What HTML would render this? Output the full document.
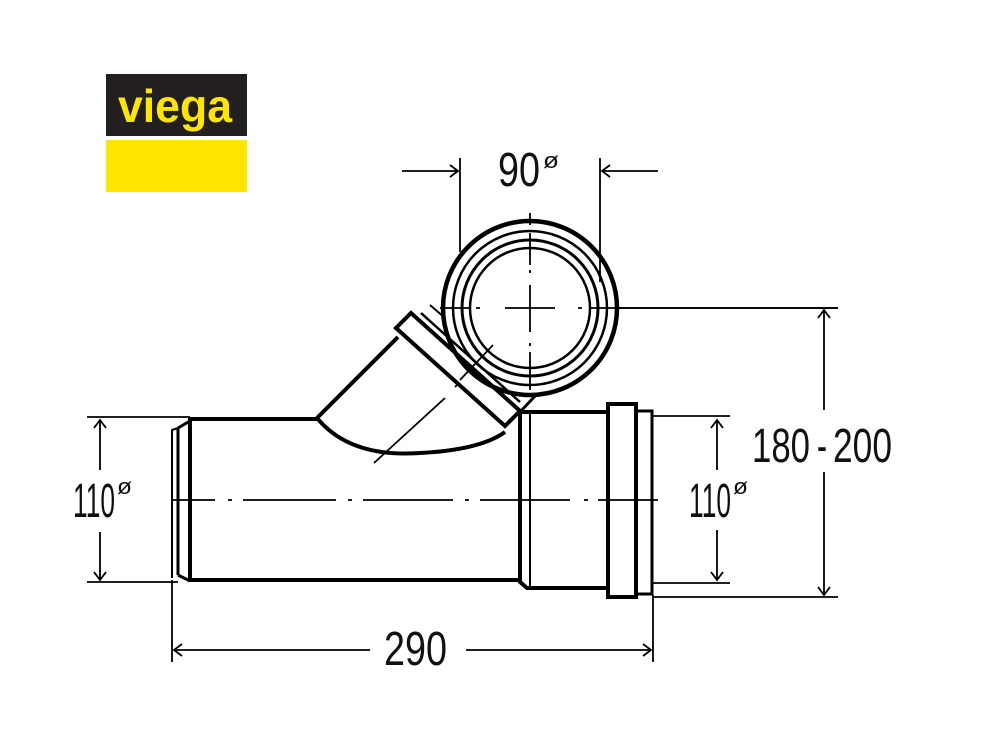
<!DOCTYPE html>
<html><head><meta charset="utf-8"><style>
html,body{margin:0;padding:0;background:#fff;width:992px;height:741px;overflow:hidden}
text{font-family:"Liberation Sans",sans-serif;fill:#111}
</style></head><body>
<svg width="992" height="741" viewBox="0 0 992 741" xmlns="http://www.w3.org/2000/svg">
<!-- logo -->
<rect x="106" y="74" width="141" height="62" fill="#231f20"/>
<rect x="106" y="140" width="141" height="52" fill="#ffe600"/>
<text x="118" y="122" font-size="46" font-weight="bold" textLength="114" lengthAdjust="spacingAndGlyphs" style="fill:#ffe600">viega</text>

<g fill="none" stroke="#000" stroke-linecap="butt">
<!-- main pipe -->
<path d="M317 419 L190 419 M190 580 L520 580" stroke-width="4"/>
<path d="M190 417 L190 582" stroke-width="4"/>
<path d="M178 428 L178 575 M178 428 L190 421 M178 575 L190 581" stroke-width="3"/>
<path d="M178 428 L172 430 L172 578" stroke-width="2"/>
<!-- socket -->
<path d="M520 412 L520 582 L527 588 L608 588 M522 412 L608 412" stroke-width="4"/>
<path d="M530 412 L530 588" stroke-width="2"/>
<rect x="608" y="404" width="28" height="193" stroke-width="4"/>
<rect x="636" y="411" width="16" height="183" stroke-width="3"/>
<!-- branch -->
<path d="M317 418 L398 337" stroke-width="4"/>
<path d="M317 418 Q350 458 420 453 Q480 450 505 432" stroke-width="4"/>
<path d="M396 328 L411 313 L520 411 L505 426 Z" stroke-width="4"/>
<path d="M416 317 L522 412 M421 313 L520 402" stroke-width="2.5"/>
<path d="M430 305 L445 318" stroke-width="2"/>
<!-- circle -->
<circle cx="530" cy="308" r="87" stroke-width="4.5"/>
<circle cx="530" cy="308" r="77" stroke-width="2.5"/>
<circle cx="530" cy="308" r="68" stroke-width="3"/>
<circle cx="530" cy="308" r="60" stroke-width="2.5"/>
<path d="M520 412 L536 395" stroke-width="3"/>
<!-- centre lines -->
<g stroke-width="1.8">
<path d="M530 213 L530 225 M530 233 L530 265 M530 270 L530 273 M530 285 L530 332 M530 343 L530 346 M530 352 L530 390"/>
<path d="M440 308 L470 308 M476 308 L480 308 M505 308 L555 308 M578 308 L582 308 M590 308 L838 308"/>
<path d="M172 500 L215 500 M228 500 L232 500 M243 500 L336 500 M348 500 L352 500 M363 500 L453 500 M465 500 L469 500 M480 500 L570 500 M584 500 L588 500 M598 500 L658 500"/>
<path d="M493 345 L460 380 M458 384 L455 387 M445 398 L374 463"/>
</g>
<!-- dimension lines -->
<g stroke-width="1.8">
<path d="M87 417 L190 417 M87 582 L178 582"/>
<path d="M100 420 L100 470 M100 532 L100 580"/>
<path d="M94 428 L100 420 L106 428 M94 572 L100 580 L106 572"/>
<path d="M653 416 L730 416 M653 583 L730 583"/>
<path d="M717 420 L717 470 M717 530 L717 580"/>
<path d="M711 428 L717 420 L723 428 M711 572 L717 580 L723 572"/>
<path d="M618 308 L838 308 M653 597 L838 597"/>
<path d="M824 310 L824 410 M824 472 L824 595"/>
<path d="M818 318 L824 310 L830 318 M818 587 L824 595 L830 587"/>
<path d="M172 580 L172 662 M653 595 L653 662"/>
<path d="M174 650 L370 650 M466 650 L651 650"/>
<path d="M182 644 L174 650 L182 656 M643 644 L651 650 L643 656"/>
<path d="M460 158 L460 252 M600 158 L600 282"/>
<path d="M402 171 L458 171 M450 165 L458 171 L450 177 M658 171 L602 171 M610 165 L602 171 L610 177"/>
</g>
</g>
<!-- labels -->
<text x="73" y="517" font-size="48" textLength="42" lengthAdjust="spacingAndGlyphs">110</text>
<text x="117" y="494" font-size="22" textLength="15" lengthAdjust="spacingAndGlyphs">ø</text>
<text x="689" y="517" font-size="48" textLength="42" lengthAdjust="spacingAndGlyphs">110</text>
<text x="733" y="494" font-size="22" textLength="15" lengthAdjust="spacingAndGlyphs">ø</text>
<text x="752" y="462" font-size="48" textLength="58" lengthAdjust="spacingAndGlyphs">180</text>
<text x="817" y="462" font-size="48" textLength="10" lengthAdjust="spacingAndGlyphs">-</text>
<text x="833" y="462" font-size="48" textLength="59" lengthAdjust="spacingAndGlyphs">200</text>
<text x="384" y="665" font-size="48" textLength="63" lengthAdjust="spacingAndGlyphs">290</text>
<text x="498" y="186" font-size="48" textLength="42" lengthAdjust="spacingAndGlyphs">90</text>
<text x="543" y="168" font-size="22" textLength="16" lengthAdjust="spacingAndGlyphs">ø</text>
</svg>
</body></html>
